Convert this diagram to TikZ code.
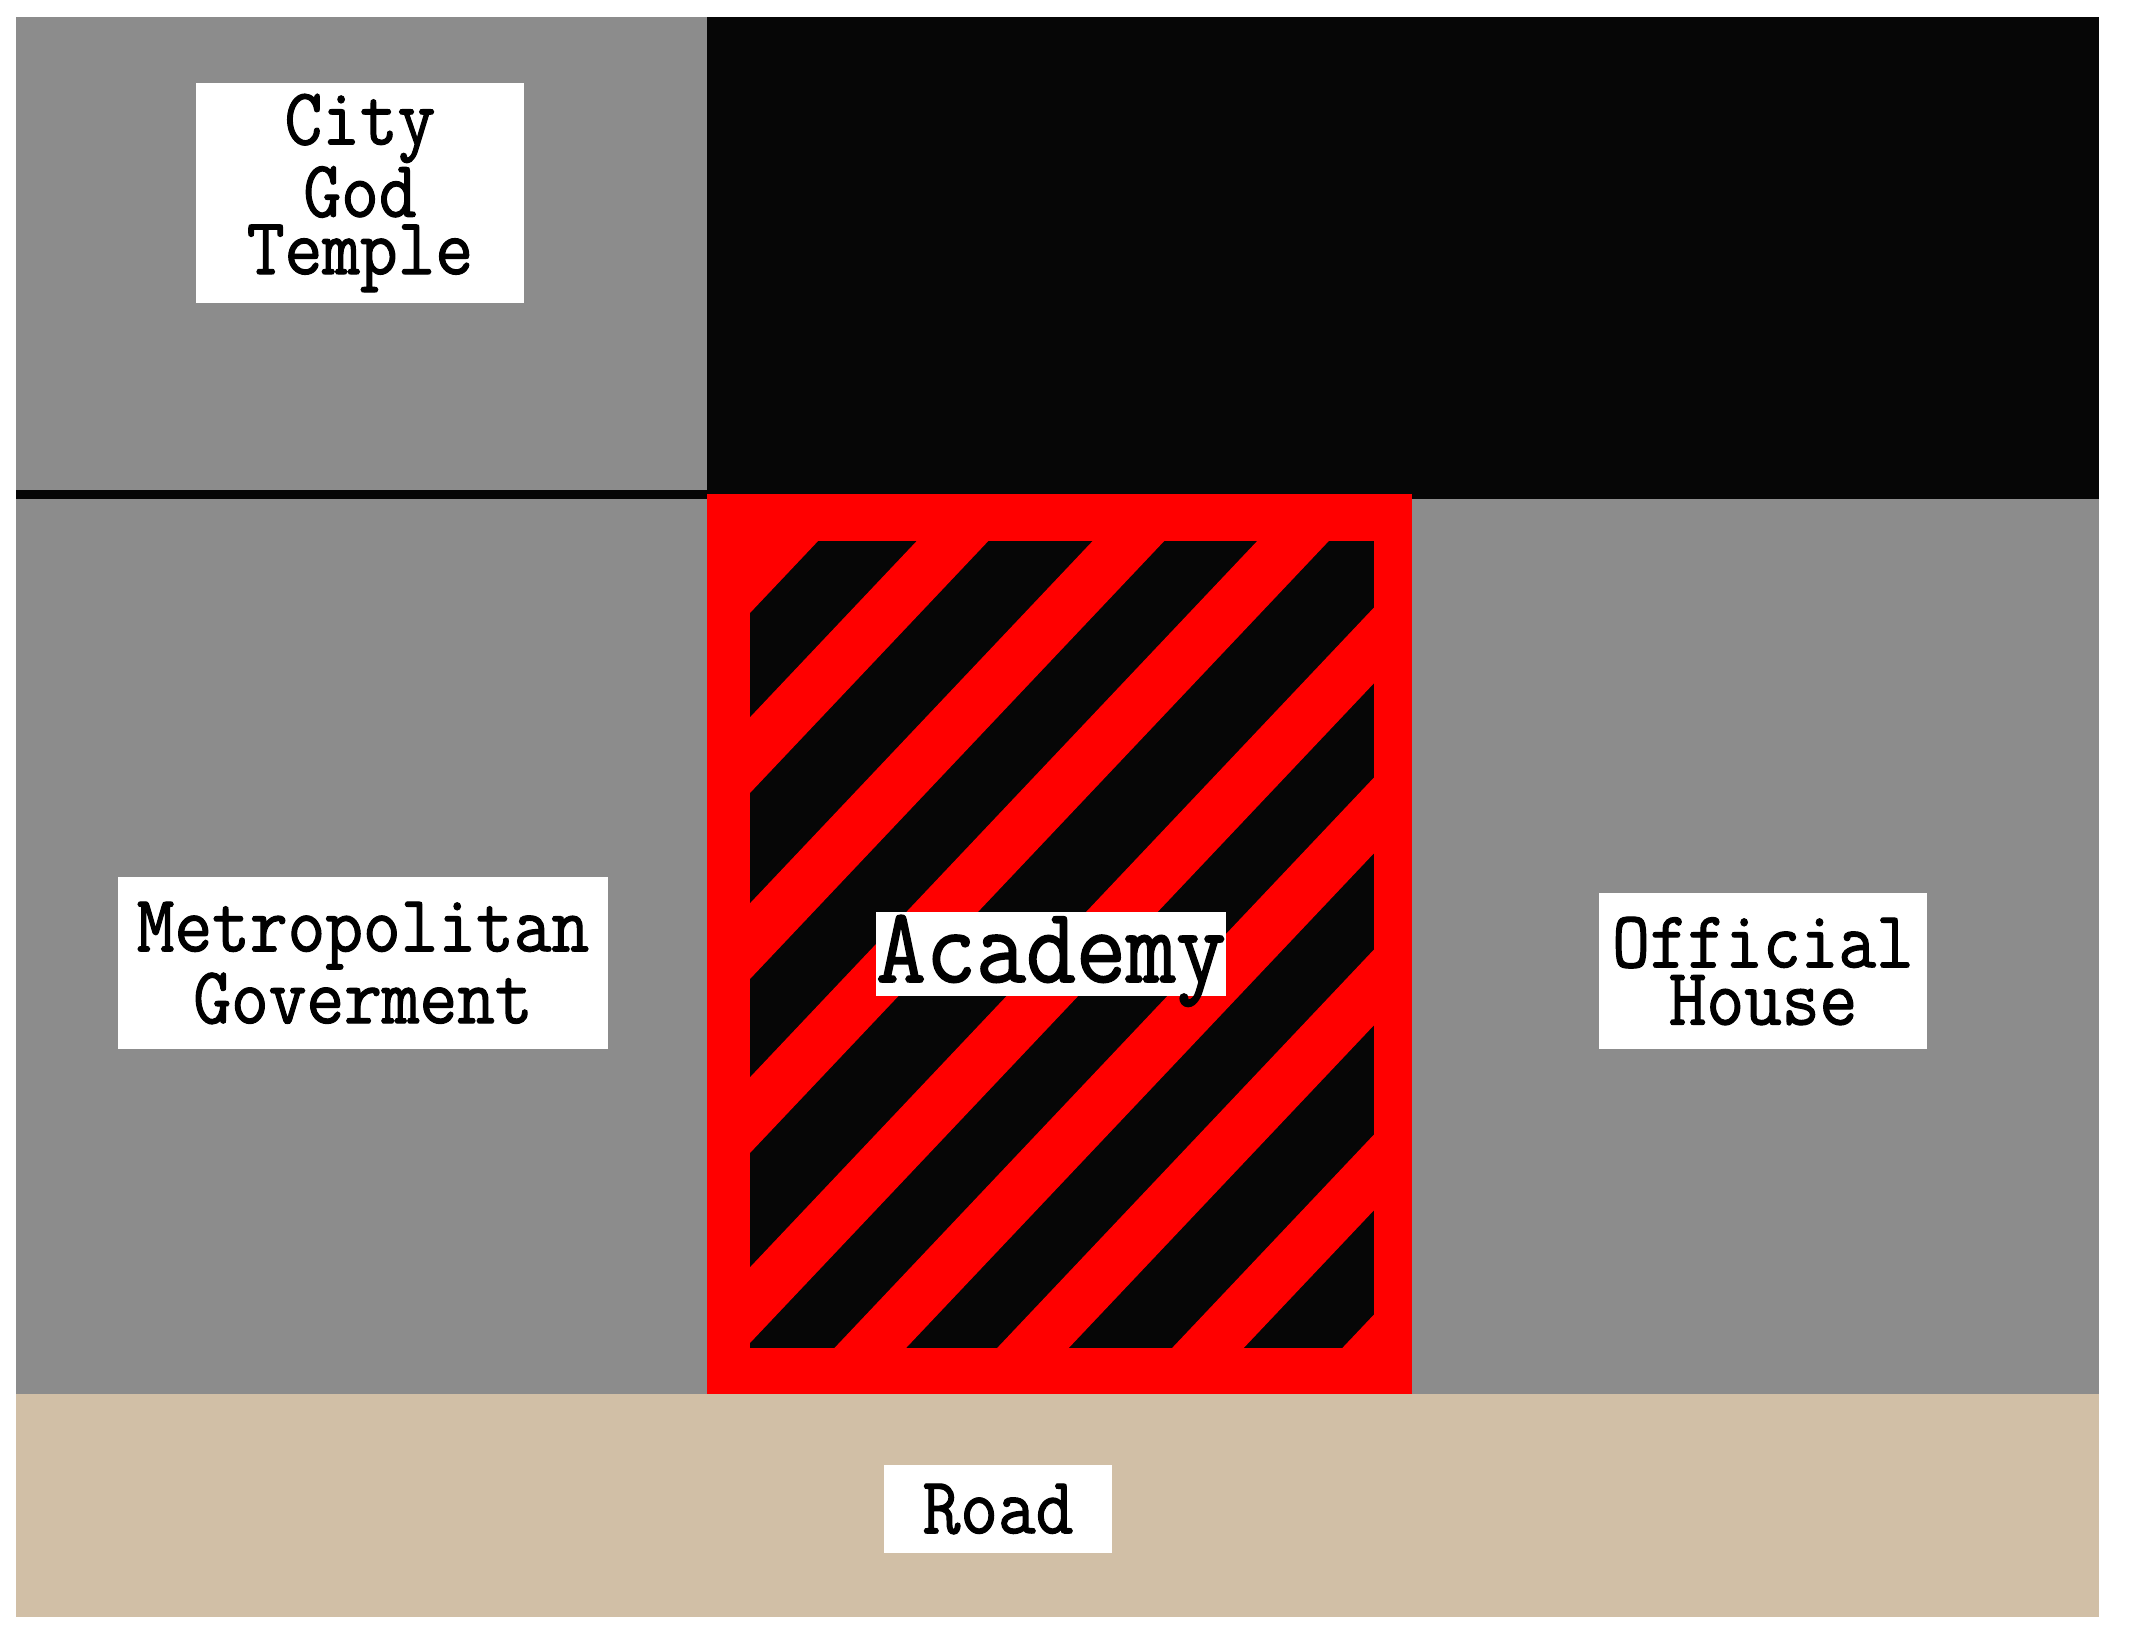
\documentclass[tikz,border=0pt]{standalone}
\usepackage{fontspec}
\newfontfamily\planfont[FakeStretch=0.905,FakeBold=1.4]{Latin Modern Mono}
\definecolor{plangray}{RGB}{140,140,140}
\definecolor{planblack}{RGB}{6,6,6}
\definecolor{planred}{RGB}{255,0,0}
\definecolor{roadtan}{RGB}{209,191,166}

\begin{document}
\begin{tikzpicture}[x=0.01cm, y=-0.01cm,
lbl/.style={fill=white, inner sep=0pt, align=center,
font=\planfont\fontsize{23}{16.3}\selectfont},
biglbl/.style={lbl, font=\planfont\fontsize{30.5}{30}\selectfont}]
\useasboundingbox (0,0) rectangle (2133,1640);
\fill[plangray] (16,17) rectangle (707,499);
\fill[planblack] (707,17) rectangle (2099,499);
\fill[planblack] (16,490) rectangle (707,499);
\fill[plangray] (16,499) rectangle (707,1394);
\fill[plangray] (1412,499) rectangle (2099,1394);
\fill[planred] (707,494) rectangle (1412,1394);
\fill[roadtan] (16,1394) rectangle (2099,1617);
\begin{scope}
\clip (750,541) rectangle (1374,1348);
\fill[planblack] (750,541) rectangle (1374,1348);
\foreach \c in {1368,1548,1734,1908,2098,2268,2440,2625,2805}
  \draw[planred, line width=0.52cm] (700,{\c-740}) -- (1450,{\c-1533});
\end{scope}
\node[lbl, minimum width=3.28cm, minimum height=2.2cm] (temple) at (360,193) {City\\God\\Temple};
\node[lbl, minimum width=4.9cm, minimum height=1.71cm] (govt) at (363,963) {Metropolitan\\Goverment};
\node[biglbl, text height=20pt, text depth=4pt, minimum width=3.47cm, minimum height=0.82cm] (academy) at (1051,954) {Academy};
\node[lbl, minimum width=3.28cm, minimum height=1.56cm] (house) at (1763,971) {Official\\House};
\node[lbl, minimum width=2.28cm, minimum height=0.87cm] (road) at (998,1509) {Road};
\end{tikzpicture}
\end{document}
